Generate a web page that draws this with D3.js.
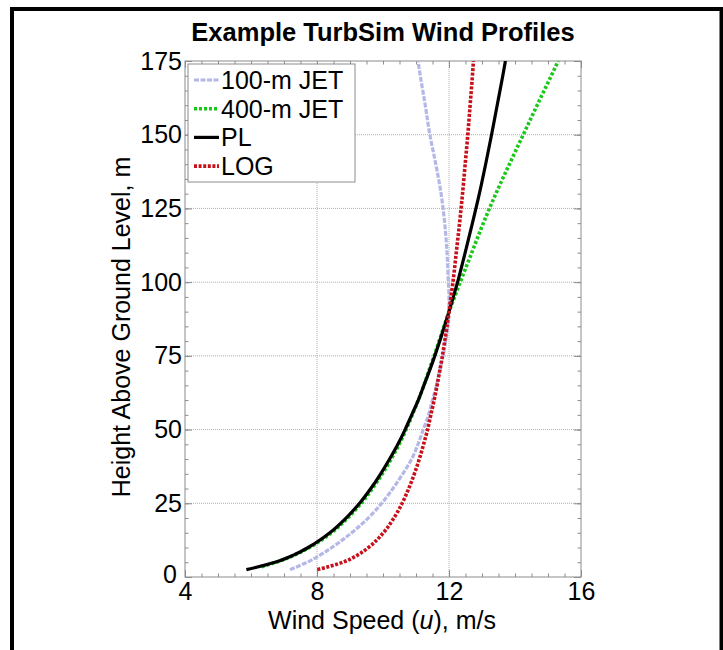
<!DOCTYPE html>
<html>
<head>
<meta charset="utf-8">
<script src="https://cdn.jsdelivr.net/npm/d3@7"></script>
<style>
  html, body { margin: 0; padding: 0; background: #fff; }
  svg text { font-family: Arial, "Liberation Sans", sans-serif; }
</style>
</head>
<body>
<svg id="chart" width="723" height="650"></svg>
<script>
// ---- data ----
const heights = [2.5, 5, 7.5, 10, 15, 20, 25, 30, 35, 40, 45, 50, 55, 60, 65, 70, 75, 80, 85, 90, 95, 100, 110, 120, 130, 140, 150, 160, 170, 175];
const heightsJet400 = [3.5, 5, 7.5, 10, 15, 20, 25, 30, 35, 40, 45, 50, 55, 60, 65, 70, 75, 80, 85, 90, 95, 100, 110, 120, 130, 140, 150, 160, 170, 175];
const jet100 = [7.18, 7.70, 8.10, 8.45, 9.05, 9.55, 9.96, 10.30, 10.60, 10.87, 11.06, 11.22, 11.38, 11.50, 11.62, 11.72, 11.82, 11.90, 11.96, 12.00, 12.00, 11.98, 11.94, 11.87, 11.76, 11.60, 11.42, 11.28, 11.13, 11.06];
const jet400 = [6.32, 6.76, 7.33, 7.77, 8.44, 8.93, 9.34, 9.68, 9.98, 10.25, 10.49, 10.70, 10.89, 11.07, 11.24, 11.39, 11.55, 11.70, 11.85, 12.00, 12.17, 12.34, 12.69, 13.04, 13.42, 13.83, 14.25, 14.67, 15.10, 15.31];
const powerLaw = [5.86, 6.73, 7.30, 7.73, 8.39, 8.88, 9.29, 9.63, 9.93, 10.20, 10.45, 10.67, 10.87, 11.07, 11.24, 11.41, 11.57, 11.72, 11.86, 12.00, 12.13, 12.26, 12.49, 12.71, 12.92, 13.11, 13.29, 13.46, 13.63, 13.71];
const logLaw = [8.01, 8.78, 9.24, 9.56, 10.01, 10.33, 10.58, 10.78, 10.95, 11.10, 11.23, 11.35, 11.45, 11.55, 11.64, 11.72, 11.80, 11.87, 11.94, 12.00, 12.06, 12.12, 12.22, 12.32, 12.41, 12.49, 12.57, 12.64, 12.71, 12.74];
const seriesNames = ["100-m JET", "400-m JET", "PL", "LOG"];
const xTicks = [4, 8, 12, 16];
const yTicks = [0, 25, 50, 75, 100, 125, 150, 175];
const titleText = "Example TurbSim Wind Profiles";
const yLabelText = "Height Above Ground Level, m";

// ---- styles ----
const styles = [
  { color: "#b5b8e6", width: 3.2, dash: "5,1.5" },
  { color: "#19c819", width: 3.6, dash: "3,2" },
  { color: "#000000", width: 3.2, dash: null },
  { color: "#c8101a", width: 3.6, dash: "3,1.6" }
];

const svg = d3.select("#chart");
const plot = { left: 185, right: 581, top: 61, bottom: 577 };
const FS = 25;

const x = d3.scaleLinear().domain([4, 16]).range([plot.left, plot.right]);
const y = d3.scaleLinear().domain([0, 175]).range([plot.bottom, plot.top]);

// outer frame
svg.append("rect").attr("x", 12).attr("y", 9).attr("width", 709.5).attr("height", 700)
  .attr("fill", "#fff").attr("stroke", "#000").attr("stroke-width", 4);

// title
svg.append("text").attr("x", 383).attr("y", 41).attr("text-anchor", "middle")
  .attr("font-size", 25.5).attr("font-weight", "bold").attr("fill", "#000").text(titleText);

// grid
const grid = svg.append("g");
grid.selectAll("line.gx").data(xTicks.slice(1, -1)).join("line")
  .attr("x1", d => x(d)).attr("x2", d => x(d)).attr("y1", plot.top).attr("y2", plot.bottom)
  .attr("stroke", "#b0b0b0").attr("stroke-width", 1).attr("stroke-dasharray", "1,1");
grid.selectAll("line.gy").data(yTicks.slice(1, -1)).join("line")
  .attr("y1", d => y(d)).attr("y2", d => y(d)).attr("x1", plot.left).attr("x2", plot.right)
  .attr("stroke", "#b0b0b0").attr("stroke-width", 1).attr("stroke-dasharray", "1,1");

// axes with inward ticks (major + minor) on all four sides
const axisColor = "#8c8c8c";
const xMinor = d3.range(4, 16.001, 0.5);
const yMinor = d3.range(0, 175.001, 5);
function addAxis(axisGen, tx, ty) {
  const g = svg.append("g").attr("transform", `translate(${tx},${ty})`).call(axisGen);
  g.select(".domain").remove();
  g.selectAll("line").attr("stroke", axisColor);
  g.selectAll("text").remove();
  return g;
}
addAxis(d3.axisBottom(x).tickValues(xMinor).tickSize(-3.5), 0, plot.bottom);
addAxis(d3.axisTop(x).tickValues(xMinor).tickSize(-3.5), 0, plot.top);
addAxis(d3.axisBottom(x).tickValues(xTicks).tickSize(-7), 0, plot.bottom);
addAxis(d3.axisTop(x).tickValues(xTicks).tickSize(-7), 0, plot.top);
addAxis(d3.axisLeft(y).tickValues(yMinor).tickSize(-3.5), plot.left, 0);
addAxis(d3.axisRight(y).tickValues(yMinor).tickSize(-3.5), plot.right, 0);
addAxis(d3.axisLeft(y).tickValues(yTicks).tickSize(-7), plot.left, 0);
addAxis(d3.axisRight(y).tickValues(yTicks).tickSize(-7), plot.right, 0);

svg.append("rect").attr("x", plot.left).attr("y", plot.top)
  .attr("width", plot.right - plot.left).attr("height", plot.bottom - plot.top)
  .attr("fill", "none").attr("stroke", axisColor).attr("stroke-width", 1);

// tick labels
const xl = d3.axisBottom(x).tickValues(xTicks).tickSize(0).tickPadding(5);
const gxl = svg.append("g").attr("transform", `translate(0,${plot.bottom})`).call(xl);
gxl.select(".domain").remove();
gxl.selectAll("text").attr("font-size", FS).attr("fill", "#000")
  .style("font-family", "Arial, 'Liberation Sans', sans-serif");

const yl = d3.axisLeft(y).tickValues(yTicks).tickSize(0).tickPadding(3);
const gyl = svg.append("g").attr("transform", `translate(${plot.left},0)`).call(yl);
gyl.select(".domain").remove();
gyl.selectAll("text").attr("font-size", FS).attr("fill", "#000")
  .style("font-family", "Arial, 'Liberation Sans', sans-serif");
// nudge the "0" label so it clears the "4" below it
gyl.selectAll(".tick").filter(d => d === 0).select("text").attr("x", -8).attr("dy", "0.2em");

// axis titles
const xt = svg.append("text").attr("x", 382).attr("y", 629).attr("text-anchor", "middle")
  .attr("font-size", FS).attr("fill", "#000");
xt.append("tspan").text("Wind Speed (");
xt.append("tspan").attr("font-style", "italic").text("u");
xt.append("tspan").text("), m/s");

svg.append("text").attr("transform", `translate(130,${(plot.top + plot.bottom) / 2 + 8}) rotate(-90)`)
  .attr("text-anchor", "middle").attr("font-size", FS).attr("fill", "#000").text(yLabelText);

// curves
svg.append("clipPath").attr("id", "clip").append("rect")
  .attr("x", plot.left).attr("y", plot.top).attr("width", plot.right - plot.left).attr("height", plot.bottom - plot.top);
const seriesData = [
  heights.map((h, i) => [jet100[i], h]),
  heightsJet400.map((h, i) => [jet400[i], h]),
  heights.map((h, i) => [powerLaw[i], h]),
  heights.map((h, i) => [logLaw[i], h])
];
const line = d3.line().x(d => x(d[0])).y(d => y(d[1])).curve(d3.curveMonotoneY);
const curves = svg.append("g").attr("clip-path", "url(#clip)");
seriesData.forEach((s, i) => {
  curves.append("path").datum(s).attr("d", line).attr("fill", "none")
    .attr("stroke", styles[i].color).attr("stroke-width", styles[i].width)
    .attr("stroke-dasharray", styles[i].dash);
});

// legend
const lg = svg.append("g");
lg.append("rect").attr("x", 188).attr("y", 64).attr("width", 167).attr("height", 118)
  .attr("fill", "#fff").attr("stroke", axisColor).attr("stroke-width", 1);
seriesNames.forEach((name, i) => {
  const cy = 80 + i * 28.7;
  lg.append("line").attr("x1", 194).attr("x2", 219).attr("y1", cy).attr("y2", cy)
    .attr("stroke", styles[i].color).attr("stroke-width", styles[i].width)
    .attr("stroke-dasharray", styles[i].dash);
  lg.append("text").attr("x", 221).attr("y", cy).attr("dy", "0.36em")
    .attr("font-size", FS).attr("fill", "#000").text(name);
});
</script>
</body>
</html>
